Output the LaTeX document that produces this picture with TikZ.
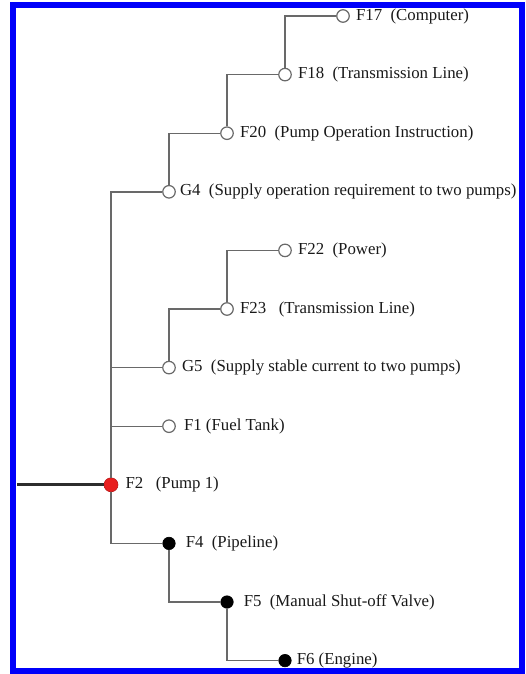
\documentclass[tikz,border=0pt]{standalone}
\usepackage{fontspec}
\setmainfont{Liberation Serif}
\usepackage{xcolor}
\usepackage{tikz}
\usetikzlibrary{positioning,calc}
\definecolor{frameblue}{RGB}{0,0,250}
\definecolor{linegray}{RGB}{105,105,105}
\definecolor{inputgray}{RGB}{45,45,45}
\definecolor{pumpred}{RGB}{232,30,30}
\definecolor{textblack}{RGB}{25,25,25}
\tikzset{
  open-event/.style={circle, draw=linegray, fill=white, line width=1.2pt,
    minimum size=12.5pt, inner sep=0pt},
  basic-event/.style={circle, draw=black, fill=black, line width=0.6pt,
    minimum size=12.5pt, inner sep=0pt},
  top-event/.style={circle, draw=pumpred!80!black, fill=pumpred, line width=0.6pt,
    minimum size=14pt, inner sep=0pt},
  event-text/.style={font=\fontsize{16.8}{18}\selectfont, text=textblack,
    inner sep=0pt, anchor=west},
  tree-line/.style={draw=linegray, line width=1.4pt},
  input-line/.style={draw=inputgray, line width=3pt}
}

\begin{document}
\begin{tikzpicture}[x=1pt, y=-1pt]
\useasboundingbox (0,0) rectangle (526,674);
\draw[frameblue, line width=5.5pt] (13,5) rectangle (522,671);

% Upper branch: operation requirement
\node[open-event] (F17) at (343,16) {};
\node[open-event] (F18) at (285,74.6) {};
\node[open-event] (F20) at (227,133.2) {};
\node[open-event] (G4) at (169,191.8) {};

% Middle branch: stable current
\node[open-event] (F22) at (285,250.4) {};
\node[open-event] (F23) at (227,309) {};
\node[open-event] (G5) at (169,367.6) {};
\node[open-event] (F1) at (169,426.2) {};

% Pump and the chain below it
\node[top-event] (F2) at (111,484.8) {};
\node[basic-event] (F4) at (169,543.4) {};
\node[basic-event] (F5) at (227,602) {};
\node[basic-event] (F6) at (285,660.6) {};

% Labels
\node[event-text, right=6pt of F17] (F17-text) {F17\ \ (Computer)};
\node[event-text, right=6pt of F18] (F18-text) {F18\ \ (Transmission Line)};
\node[event-text, right=6pt of F20] (F20-text) {F20\ \ (Pump Operation Instruction)};
\node[event-text, right=4pt of G4] (G4-text) {G4\ \ (Supply operation requirement to two pumps)};
\node[event-text, right=6pt of F22] (F22-text) {F22\ \ (Power)};
\node[event-text, right=6pt of F23] (F23-text) {F23\ \ \ (Transmission Line)};
\node[event-text, right=6pt of G5] (G5-text) {G5\ \ (Supply stable current to two pumps)};
\node[event-text, right=8pt of F1] (F1-text) {F1 (Fuel Tank)};
\node[event-text, right=7pt of F2] (F2-text) {F2\ \ \ (Pump 1)};
\node[event-text, right=10pt of F4] (F4-text) {F4\ \ (Pipeline)};
\node[event-text, right=10pt of F5] (F5-text) {F5\ \ (Manual Shut-off Valve)};
\node[event-text, right=5pt of F6] (F6-text) {F6 (Engine)};

% Trunk and connectors
\coordinate (trunk-top) at (F2 |- G4);
\coordinate (input) at (17,484.8);
\draw[input-line] (input) -- (F2);
\draw[tree-line] (F2) -- (trunk-top) -- (G4);
\draw[tree-line] (F2 |- G5) -- (G5);
\draw[tree-line] (F2 |- F1) -- (F1);
\draw[tree-line] (G4) |- (F20);
\draw[tree-line] (F20) |- (F18);
\draw[tree-line] (F18) |- (F17);
\draw[tree-line] (G5) |- (F23);
\draw[tree-line] (F23) |- (F22);
\draw[tree-line] (F2) |- (F4);
\draw[tree-line] (F4) |- (F5);
\draw[tree-line] (F5) |- (F6);
\end{tikzpicture}
\end{document}
